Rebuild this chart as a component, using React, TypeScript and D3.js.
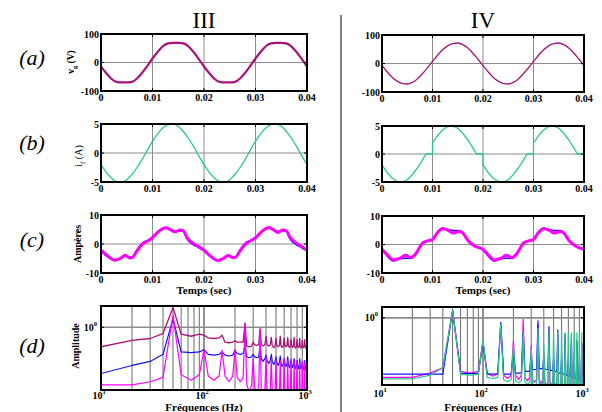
import React from "react";
import * as d3 from "d3";

const FONT = "'Liberation Serif', 'Times New Roman', serif";

// ---------- time-domain data ----------
const tGrid = d3.range(0, 0.04 + 1e-9, 0.001);
const timeTicks = [0, 0.01, 0.02, 0.03, 0.04];
const timeTickLabels = ["0", "0.01", "0.02", "0.03", "0.04"];

const vgLeft = [-14, -37, -57, -68, -70, -70, -68, -56, -36, -12, 14, 37, 57, 67, 69, 69, 67, 56, 36, 12,
  -14, -37, -57, -68, -70, -70, -68, -56, -36, -12, 14, 37, 57, 67, 69, 69, 67, 56, 36, 12, -14];
const vgRight = [-7, -29, -48, -62, -70, -72, -66, -54, -36, -15, 7, 29, 48, 62, 70, 72, 66, 54, 36, 15,
  -7, -29, -48, -62, -70, -72, -66, -54, -36, -15, 7, 29, 48, 62, 70, 72, 66, 54, 36, 15, -7];

const ifLeft = [-2.0, -3.3, -4.3, -4.9, -5.0, -4.6, -3.7, -2.5, -1.1, 0.5, 2.0, 3.3, 4.3, 4.9, 5.0, 4.6, 3.7, 2.5, 1.1, -0.5,
  -2.0, -3.3, -4.3, -4.9, -5.0, -4.6, -3.7, -2.5, -1.1, 0.5, 2.0, 3.3, 4.3, 4.9, 5.0, 4.6, 3.7, 2.5, 1.1, -0.5, -2.0];

const ifRightT = [0, 0, 0.001, 0.002, 0.003, 0.004, 0.005, 0.006, 0.007, 0.008, 0.0087,
  0.01, 0.01, 0.011, 0.012, 0.013, 0.014, 0.015, 0.016, 0.017, 0.018, 0.0187,
  0.02, 0.02, 0.021, 0.022, 0.023, 0.024, 0.025, 0.026, 0.027, 0.028, 0.0287,
  0.03, 0.03, 0.031, 0.032, 0.033, 0.034, 0.035, 0.036, 0.037, 0.038, 0.0387, 0.04, 0.04];
const ifRightV = [0, -2.0, -3.3, -4.3, -4.9, -5.0, -4.6, -3.7, -2.5, -1.1, 0,
  0, 2.0, 3.3, 4.3, 4.9, 5.0, 4.6, 3.7, 2.5, 1.1, 0,
  0, -2.0, -3.3, -4.3, -4.9, -5.0, -4.6, -3.7, -2.5, -1.1, 0,
  0, 2.0, 3.3, 4.3, 4.9, 5.0, 4.6, 3.7, 2.5, 1.1, 0, 0, -2.0];

const cLeftT = [0, 0.0011, 0.0027, 0.0037, 0.0047, 0.0056, 0.0061, 0.0069, 0.0082, 0.0092,
  0.01, 0.0111, 0.0126, 0.0134, 0.0144, 0.0153, 0.016, 0.0166, 0.0179, 0.0189,
  0.02, 0.0211, 0.0227, 0.0237, 0.0247, 0.0256, 0.0261, 0.0269, 0.0282, 0.0292,
  0.03, 0.0311, 0.0326, 0.0334, 0.0344, 0.0353, 0.036, 0.0366, 0.0379, 0.0389, 0.04];
const cLeftMag = [-2.1, -3.8, -5.6, -5.0, -3.9, -4.8, -4.6, -2.6, 0.2, 1.1,
  2.2, 4.2, 5.6, 5.0, 4.2, 4.8, 4.6, 2.5, 0.2, -0.8,
  -2.1, -3.9, -5.7, -5.0, -4.0, -4.7, -4.6, -2.7, 0.2, 1.2,
  2.1, 4.1, 5.7, 5.0, 4.0, 4.8, 4.6, 2.6, 0.4, -0.8, -2.1];
const cLeftBlue = [-2.4, -4.2, -5.5, -5.1, -4.2, -4.6, -4.5, -2.2, 0.6, 1.4,
  2.4, 4.4, 5.5, 5.1, 4.4, 4.6, 4.4, 2.0, -0.2, -1.2,
  -2.4, -4.2, -5.5, -5.1, -4.2, -4.6, -4.5, -2.2, 0.6, 1.4,
  2.4, 4.4, 5.5, 5.1, 4.4, 4.6, 4.4, 2.0, -0.2, -1.2, -2.4];

const cRightT = [0, 0.001, 0.0022, 0.0033, 0.0047, 0.0057, 0.0065, 0.0081, 0.0091,
  0.01, 0.0109, 0.012, 0.0131, 0.0141, 0.0153, 0.016, 0.0171, 0.0184,
  0.02, 0.021, 0.0222, 0.0233, 0.0247, 0.0257, 0.0265, 0.0281, 0.0291,
  0.03, 0.0309, 0.032, 0.0331, 0.0341, 0.0353, 0.036, 0.0371, 0.0384, 0.04];
const cRightMag = [-1.7, -3.5, -5.4, -5.0, -3.8, -4.6, -3.6, 0.6, 1.3,
  1.7, 4.0, 5.5, 5.0, 4.0, 4.6, 4.0, 1.2, -0.6,
  -1.7, -3.5, -5.4, -5.0, -3.8, -4.6, -3.6, 0.6, 1.3,
  1.7, 4.0, 5.5, 5.0, 4.0, 4.6, 4.0, 1.2, -0.6, -1.7];
const cRightBlue = [-1.9, -4.0, -5.8, -5.1, -4.8, -4.9, -4.0, 0.4, 1.3,
  1.8, 4.2, 5.8, 5.2, 4.9, 4.9, 4.3, 1.4, -0.5,
  -1.9, -4.0, -5.8, -5.1, -4.8, -4.9, -4.0, 0.4, 1.3,
  1.8, 4.2, 5.8, 5.2, 4.9, 4.9, 4.3, 1.4, -0.5, -1.9];

// ---------- spectrum data ----------
const lowFreqs = [10, 20, 30, 40];
const harmonicFreqs = [50, 100, 150, 200, 250, 300, 350, 400, 450, 500, 550, 600, 650, 700, 750, 800, 850, 900, 950, 1000];

// left (III)
const lDarkLow = [0.65, 0.75, 0.78, 0.87];
const lDarkPeaks = [1.55, 0.84, 0.84, 0.74, 1.10, 0.72, 0.97, 0.82, 0.80, 0.78, 0.82, 0.78, 0.80, 0.76, 0.80, 0.76, 0.78, 0.75, 0.76, 0.74];
const lDarkShoulder = [0.86, 0.79, 0.72, 0.72, 0.66, 0.68, 0.68, 0.68, 0.66, 0.67, 0.66, 0.67, 0.66, 0.66, 0.65, 0.66, 0.65, 0.66, 0.65];
const lDarkValley = [0.82, 0.78, 0.71, 0.72, 0.65, 0.67, 0.66, 0.66, 0.64, 0.65, 0.64, 0.65, 0.64, 0.64, 0.63, 0.64, 0.63, 0.64, 0.63];

const lBlueLow = [0.36, 0.43, 0.47, 0.55];
const lBluePeaks = [1.21, 0.61, 0.58, 0.60, 0.66, 0.55, 0.67, 0.54, 0.55, 0.52, 0.53, 0.50, 0.52, 0.49, 0.50, 0.48, 0.50, 0.47, 0.48, 0.46];
const lBlueShoulder = [0.58, 0.55, 0.54, 0.56, 0.52, 0.52, 0.50, 0.48, 0.47, 0.46, 0.45, 0.45, 0.44, 0.44, 0.43, 0.43, 0.42, 0.42, 0.42];
const lBlueValley = [0.57, 0.54, 0.53, 0.55, 0.51, 0.51, 0.47, 0.45, 0.44, 0.43, 0.42, 0.42, 0.41, 0.41, 0.40, 0.40, 0.40, 0.39, 0.39];

const lMagLow = [0.28, 0.28, 0.30, 0.33];
const lMagPeaks = [1.30, 0.61, 0.60, 0.61, 1.08, 0.50, 0.94, 0.52, 0.50, 0.50, 0.48, 0.50, 0.48, 0.49, 0.47, 0.48, 0.46, 0.47, 0.46, 0.46];
const lMagShoulder = [0.35, 0.34, 0.34, 0.33, 0.28, 0.27, 0.25, 0.24, 0.24, 0.23, 0.23, 0.23, 0.22, 0.22, 0.22, 0.22, 0.22, 0.22, 0.22];
const lMagValley = [0.31, 0.31, 0.30, 0.30, 0.24, 0.23, 0.22, 0.22, 0.21, 0.21, 0.21, 0.21, 0.20, 0.20, 0.20, 0.20, 0.20, 0.20, 0.20];

// right (IV)
const rBlueLow = [0.145, 0.145, 0.145, 0.145];
const rBluePeaks = [1.28, 0.42, 0.86, 0.30, 0.62, 0.28, 0.90, 0.26, 0.74, 0.25, 0.66, 0.24, 0.58, 0.23, 0.52, 0.22, 0.46, 0.21, 0.42, 0.20];
const rBlueShoulder = [0.15, 0.145, 0.145, 0.15, 0.16, 0.17, 0.175, 0.17, 0.165, 0.16, 0.15, 0.145, 0.14, 0.135, 0.13, 0.125, 0.12, 0.115, 0.11];
const rBlueValley = [0.148, 0.145, 0.145, 0.15, 0.16, 0.17, 0.175, 0.17, 0.165, 0.16, 0.15, 0.145, 0.14, 0.135, 0.13, 0.125, 0.12, 0.115, 0.11];

const rMagLow = [0.13, 0.13, 0.15, 0.18];
const rMagPeaks = [1.28, 0.45, 0.80, 0.45, 0.96, 0.38, 0.80, 0.30, 0.60, 0.25, 0.55, 0.30, 0.45, 0.30, 0.40, 0.30, 0.42, 0.30, 0.40, 0.35];
const rMagShoulder = [0.16, 0.15, 0.14, 0.14, 0.13, 0.12, 0.12, 0.11, 0.11, 0.11, 0.105, 0.105, 0.10, 0.10, 0.10, 0.10, 0.10, 0.10, 0.10];
const rMagValley = [0.15, 0.135, 0.125, 0.12, 0.115, 0.11, 0.105, 0.10, 0.10, 0.098, 0.098, 0.098, 0.095, 0.095, 0.095, 0.095, 0.095, 0.095, 0.095];

const rGreenLow = [0.123, 0.123, 0.14, 0.18];
const rGreenPeaks = [1.28, 0.47, 0.80, 0.38, 0.63, 0.35, 0.70, 0.40, 0.62, 0.60, 0.62, 0.62, 0.60, 0.60, 0.60, 0.60, 0.60, 0.60, 0.60, 0.60];
const rGreenShoulder = [0.145, 0.13, 0.12, 0.115, 0.11, 0.105, 0.105, 0.10, 0.10, 0.10, 0.10, 0.10, 0.10, 0.10, 0.10, 0.10, 0.10, 0.10, 0.10];
const rGreenValley = [0.14, 0.125, 0.112, 0.108, 0.103, 0.10, 0.10, 0.098, 0.098, 0.098, 0.098, 0.098, 0.098, 0.098, 0.098, 0.098, 0.098, 0.098, 0.098];

const specGridFreqs = [20, 30, 40, 50, 60, 70, 80, 90, 100, 200, 300, 400, 500, 600, 700, 800, 900];
const specTicks = [10, 100, 1000];
const specTickExp = ["1", "2", "3"];

// ---------- colours ----------
const DARKMAG = "#a8137a";
const MAG = "#ff00ff";
const BLUE = "#1010ff";
const GREEN = "#28c98a";
const GRID = "#8c8c8c";

function buildSpectrum(low: number[], peaks: number[], shoulder: number[], valley: number[]) {
  const pts: [number, number][] = [];
  lowFreqs.forEach((f, i) => pts.push([f, low[i]]));
  harmonicFreqs.forEach((f, k) => {
    pts.push([f, peaks[k]]);
    if (k < shoulder.length) {
      pts.push([f + 10, shoulder[k]]);
      pts.push([f + 25, valley[k]]);
      pts.push([f + 40, shoulder[k]]);
    }
  });
  return pts;
}

type TSeries = { t: number[]; v: number[]; color: string; width: number; curve?: any };

function TimePanel(props: {
  id: string; x0: number; x1: number; y0: number; y1: number; yMax: number;
  yLabels: string[]; series: TSeries[]; xlabel?: string;
}) {
  const { id, x0, x1, y0, y1, yMax, yLabels, series, xlabel } = props;
  const x = d3.scaleLinear().domain([0, 0.04]).range([x0, x1]);
  const y = d3.scaleLinear().domain([-yMax, yMax]).range([y1, y0]);
  const yVals = [yMax, 0, -yMax];
  return (
    <g>
      <clipPath id={id}><rect x={x0} y={y0} width={x1 - x0} height={y1 - y0} /></clipPath>
      {timeTicks.slice(1, -1).map((t) => (
        <line key={t} x1={x(t)} x2={x(t)} y1={y0} y2={y1} stroke={GRID} strokeWidth={1} />
      ))}
      <line x1={x0} x2={x1} y1={y(0)} y2={y(0)} stroke={GRID} strokeWidth={1} />
      <g clipPath={`url(#${id})`}>
        {series.map((s, i) => {
          const line = d3.line<number>().x((_, j) => x(s.t[j])).y((d) => y(d)).curve(s.curve || d3.curveMonotoneX);
          return <path key={i} d={line(s.v) || ""} fill="none" stroke={s.color} strokeWidth={s.width} strokeLinejoin="round" />;
        })}
      </g>
      {timeTicks.map((t) => (
        <g key={"tk" + t}>
          <line x1={x(t)} x2={x(t)} y1={y1} y2={y1 - 3} stroke="#000" />
          <line x1={x(t)} x2={x(t)} y1={y0} y2={y0 + 3} stroke="#000" />
        </g>
      ))}
      {yVals.map((v) => (
        <g key={"yk" + v}>
          <line x1={x0} x2={x0 + 3} y1={y(v)} y2={y(v)} stroke="#000" />
          <line x1={x1} x2={x1 - 3} y1={y(v)} y2={y(v)} stroke="#000" />
        </g>
      ))}
      <rect x={x0} y={y0} width={x1 - x0} height={y1 - y0} fill="none" stroke="#000" strokeWidth={2} />
      {timeTicks.map((t, i) => (
        <text key={"tl" + t} x={x(t)} y={y1 + 10} textAnchor="middle" fontSize={10} fontWeight="bold" fontFamily={FONT}>
          {timeTickLabels[i]}
        </text>
      ))}
      {yVals.map((v, i) => (
        <text key={"yl" + v} x={x0 - 2} y={y(v) + 3.5} textAnchor="end" fontSize={10} fontWeight="bold" fontFamily={FONT}>
          {yLabels[i]}
        </text>
      ))}
      {xlabel && (
        <text x={(x0 + x1) / 2} y={y1 + 21} textAnchor="middle" fontSize={11} fontWeight="bold" fontFamily={FONT}>
          {xlabel}
        </text>
      )}
    </g>
  );
}

type SSeries = { pts: [number, number][]; color: string; width: number };

function SpecPanel(props: {
  id: string; x0: number; x1: number; y0: number; y1: number; yDomain: [number, number]; series: SSeries[];
  tickY: number;
}) {
  const { id, x0, x1, y0, y1, yDomain, series, tickY } = props;
  const x = d3.scaleLog().domain([10, 1000]).range([x0, x1]);
  const y = d3.scaleLog().domain(yDomain).range([y1, y0]);
  const line = d3.line<[number, number]>().x((d) => x(d[0])).y((d) => y(Math.max(d[1], yDomain[0] * 0.8)));
  return (
    <g>
      <clipPath id={id}><rect x={x0} y={y0} width={x1 - x0} height={y1 - y0} /></clipPath>
      {specGridFreqs.map((f) => (
        <line key={f} x1={x(f)} x2={x(f)} y1={y0} y2={y1} stroke={f === 100 ? "#777" : "#444"} strokeWidth={f === 100 ? 1.6 : 0.8} />
      ))}
      <line x1={x0} x2={x1} y1={y(1)} y2={y(1)} stroke={GRID} strokeWidth={1.6} />
      <g clipPath={`url(#${id})`}>
        {series.map((s, i) => (
          <path key={i} d={line(s.pts) || ""} fill="none" stroke={s.color} strokeWidth={s.width} strokeLinejoin="round" />
        ))}
      </g>
      <line x1={x0} x2={x0 + 3} y1={y(1)} y2={y(1)} stroke="#000" />
      <line x1={x1} x2={x1 - 3} y1={y(1)} y2={y(1)} stroke="#000" />
      <rect x={x0} y={y0} width={x1 - x0} height={y1 - y0} fill="none" stroke="#000" strokeWidth={2} />
      {specTicks.map((f, i) => (
        <text key={"st" + f} x={x(f) - 2} y={tickY} textAnchor="middle" fontSize={10} fontWeight="bold" fontFamily={FONT}>
          10<tspan dy={-5} fontSize={6.5}>{specTickExp[i]}</tspan>
        </text>
      ))}
      <text x={x0 - 4} y={y(1) + 3.5} textAnchor="end" fontSize={10} fontWeight="bold" fontFamily={FONT}>
        10<tspan dy={-5} fontSize={6.5}>0</tspan>
      </text>
      <text x={(x0 + x1) / 2} y={410.5} textAnchor="middle" fontSize={11} fontWeight="bold" fontFamily={FONT}>
        Fréquences (Hz)
      </text>
    </g>
  );
}

const L = { x0: 101, x1: 307 };
const R = { x0: 382, x1: 584 };

export default function App() {
  const panelLabels = [
    { t: "(a)", y: 65 },
    { t: "(b)", y: 150 },
    { t: "(c)", y: 247 },
    { t: "(d)", y: 353 },
  ];
  return (
    <div style={{ position: "fixed", left: 0, top: 0 }}>
      <svg width={602} height={412} style={{ display: "block", background: "#fff" }}>
        <rect x={0} y={0} width={602} height={412} fill="#fff" />
        <line x1={341} x2={341} y1={15} y2={412} stroke="#808080" strokeWidth={2} />
        <text x={204} y={28} textAnchor="middle" fontSize={23} fontFamily={FONT}>III</text>
        <text x={483} y={28} textAnchor="middle" fontSize={23} fontFamily={FONT}>IV</text>
        {panelLabels.map((p) => (
          <text key={p.t} x={32} y={p.y} textAnchor="middle" fontSize={22} fontStyle="italic" fontFamily={FONT}>{p.t}</text>
        ))}
        {/* y labels */}
        <text transform="translate(74,62) rotate(-90)" textAnchor="middle" fontSize={9.5} fontWeight="bold" fontFamily={FONT}>
          v<tspan dy={2.5} fontSize={6.5}>g</tspan><tspan dy={-2.5}> (V)</tspan>
        </text>
        <text transform="translate(82,156) rotate(-90)" textAnchor="middle" fontSize={10} fontFamily={FONT}>
          i<tspan dy={2.5} fontSize={7}>f</tspan><tspan dy={-2.5}> (A)</tspan>
        </text>
        <text transform="translate(81,244) rotate(-90)" textAnchor="middle" fontSize={10} fontWeight="bold" fontFamily={FONT}>Ampères</text>
        <text transform="translate(79,346) rotate(-90)" textAnchor="middle" fontSize={10} fontWeight="bold" fontFamily={FONT}>Amplitude</text>

        <TimePanel id="ca" x0={L.x0} x1={L.x1} y0={34} y1={91} yMax={100} yLabels={["100", "0", "-100"]}
          series={[{ t: tGrid, v: vgLeft, color: DARKMAG, width: 2.2 }]} />
        <TimePanel id="cb" x0={R.x0} x1={R.x1} y0={35} y1={92} yMax={100} yLabels={["100", "0", "-100"]}
          series={[{ t: tGrid, v: vgRight, color: DARKMAG, width: 1.3 }]} />
        <TimePanel id="cc" x0={L.x0} x1={L.x1} y0={124} y1={182} yMax={5} yLabels={["5", "0", "-5"]}
          series={[{ t: tGrid, v: ifLeft, color: GREEN, width: 1.3 }]} />
        <TimePanel id="cd" x0={R.x0} x1={R.x1} y0={126} y1={182} yMax={5} yLabels={["5", "0", "-5"]}
          series={[{ t: ifRightT, v: ifRightV, color: GREEN, width: 1.3, curve: d3.curveLinear }]} />
        <TimePanel id="ce" x0={L.x0} x1={L.x1} y0={215} y1={273} yMax={10} yLabels={["10", "0", "-10"]} xlabel="Temps (sec)"
          series={[
            { t: cLeftT, v: cLeftBlue, color: BLUE, width: 1.5 },
            { t: cLeftT, v: cLeftMag, color: MAG, width: 3 },
          ]} />
        <TimePanel id="cf" x0={R.x0} x1={R.x1} y0={216} y1={273} yMax={10} yLabels={["10", "0", "-10"]} xlabel="Temps (sec)"
          series={[
            { t: cRightT, v: cRightBlue, color: BLUE, width: 1.5 },
            { t: cRightT, v: cRightMag, color: MAG, width: 3 },
          ]} />

        <SpecPanel id="cg" x0={L.x0} x1={L.x1} y0={306} y1={390} yDomain={[0.25, 1.6]} tickY={398.5}
          series={[
            { pts: buildSpectrum(lDarkLow, lDarkPeaks, lDarkShoulder, lDarkValley), color: DARKMAG, width: 1.3 },
            { pts: buildSpectrum(lBlueLow, lBluePeaks, lBlueShoulder, lBlueValley), color: BLUE, width: 1.2 },
            { pts: buildSpectrum(lMagLow, lMagPeaks, lMagShoulder, lMagValley), color: MAG, width: 1.2 },
          ]} />
        <SpecPanel id="ch" x0={R.x0} x1={R.x1} y0={307} y1={385} yDomain={[0.1, 1.45]} tickY={397}
          series={[
            { pts: buildSpectrum(rMagLow, rMagPeaks, rMagShoulder, rMagValley), color: MAG, width: 1.2 },
            { pts: buildSpectrum(rBlueLow, rBluePeaks, rBlueShoulder, rBlueValley), color: BLUE, width: 1.2 },
            { pts: buildSpectrum(rGreenLow, rGreenPeaks, rGreenShoulder, rGreenValley), color: GREEN, width: 1.2 },
          ]} />
      </svg>
    </div>
  );
}
